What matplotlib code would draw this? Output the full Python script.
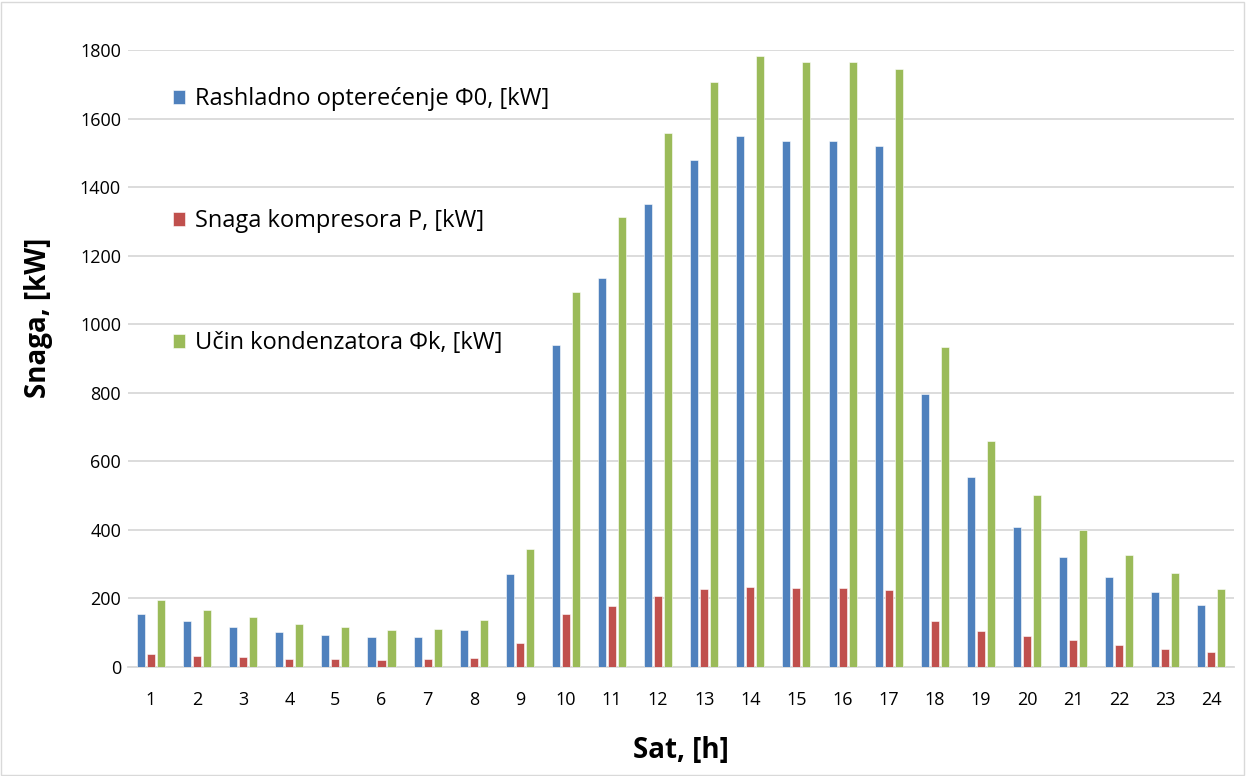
import numpy as np
import matplotlib
matplotlib.use("Agg")
import matplotlib.pyplot as plt
from matplotlib.patches import Rectangle

plt.rcParams['font.family'] = ['Open Sans', 'DejaVu Sans']

hours = list(range(1, 25))
rashladno = [156, 133, 116, 102, 92, 87, 87, 108, 272, 938, 1134, 1350,
             1478, 1548, 1534, 1534, 1519, 796, 554, 409, 320, 262, 218, 181]
kompresor = [38, 32, 28, 23, 22, 20, 22, 26, 69, 156, 179, 207,
             227, 233, 231, 231, 225, 134, 106, 90, 78, 64, 53, 44]
kondenzator = [195, 166, 145, 126, 116, 109, 111, 136, 343, 1094, 1313, 1557,
               1707, 1783, 1766, 1766, 1745, 933, 660, 502, 400, 327, 273, 228]
labels = ['Rashladno opterećenje Φ0, [kW]', 'Snaga kompresora P, [kW]',
          'Učin kondenzatora Φk, [kW]']
colors = ['#4F81BD', '#C0504D', '#9BBB59']
yticks = [0, 200, 400, 600, 800, 1000, 1200, 1400, 1600, 1800]

fig = plt.figure(figsize=(12.46, 7.76), dpi=100)
ax = fig.add_axes([0.1027, 0.1405, 0.888, 0.795])

x = np.array(hours)
w = 0.175
for i, (vals, c, lab) in enumerate(zip([rashladno, kompresor, kondenzator], colors, labels)):
    ax.bar(x + (i - 1) * 0.217, vals, width=w, color=c, edgecolor='white',
           linewidth=0.4, label=lab, zorder=3)

ax.set_xlim(0.5, 24.5)
ax.set_ylim(0, 1800)
ax.set_yticks(yticks)
ax.set_xticks(hours)
ax.tick_params(axis='both', length=0, labelsize=13, colors='black')
ax.tick_params(axis='y', pad=5)
ax.tick_params(axis='x', pad=17)
ax.grid(axis='y', color='#d9d9d9', linewidth=1.3, zorder=0)
for s in ['top', 'right', 'left']:
    ax.spines[s].set_visible(False)
ax.spines['bottom'].set_color('#d9d9d9')
ax.spines['bottom'].set_linewidth(1.3)

ax.set_xlabel('Sat, [h]', fontsize=20, fontweight='bold', labelpad=20)
ax.set_ylabel('Snaga, [kW]', fontsize=20, fontweight='bold')
ax.yaxis.set_label_coords(-0.068, 0.566)

ax.legend(loc='upper left', bbox_to_anchor=(0.0214, 0.974), frameon=False,
          fontsize=17, labelspacing=4.15, handlelength=0.5, handleheight=0.5,
          handletextpad=0.45)

fig.patches.append(Rectangle((0.001, 0.001), 0.997, 0.997, transform=fig.transFigure,
                             fill=False, edgecolor='#d9d9d9', linewidth=1))

fig.savefig('out.png', dpi=100)
